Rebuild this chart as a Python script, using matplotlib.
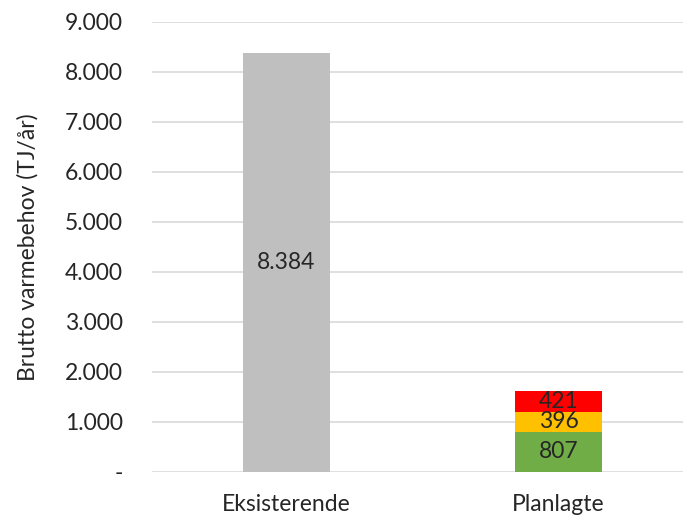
import matplotlib.pyplot as plt
from matplotlib.ticker import FuncFormatter

plt.rcParams['font.family'] = ['Lato', 'DejaVu Sans']

categories = ['Eksisterende', 'Planlagte']
existing = [8384, 0]
planned_green = [0, 807]
planned_yellow = [0, 396]
planned_red = [0, 421]


def thousands(v, pos):
    if v == 0:
        return '-'
    return f'{int(v):,}'.replace(',', '.')


fig = plt.figure(figsize=(6.83, 5.16), dpi=100)
ax = fig.add_axes([152 / 683, 44 / 516, (683 - 152) / 683, (472 - 22) / 516 * 1.0])

fs = 16.5
x = [0, 1]
w = 0.32
ax.bar(x, existing, width=w, color='#BFBFBF', zorder=2)
ax.bar(x, planned_green, width=w, color='#70AD47', zorder=2)
bottom2 = [a for a in planned_green]
ax.bar(x, planned_yellow, width=w, bottom=bottom2, color='#FFC000', zorder=2)
bottom3 = [a + b for a, b in zip(planned_green, planned_yellow)]
ax.bar(x, planned_red, width=w, bottom=bottom3, color='#FF0000', zorder=2)

# value labels in the middle of each segment
ax.text(0, existing[0] / 2, thousands(existing[0], None), ha='center', va='center', fontsize=fs, color='#262626')
ax.text(1, planned_green[1] / 2, str(planned_green[1]), ha='center', va='center', fontsize=fs, color='#262626')
ax.text(1, bottom2[1] + planned_yellow[1] / 2, str(planned_yellow[1]), ha='center', va='center', fontsize=fs, color='#262626')
ax.text(1, bottom3[1] + planned_red[1] / 2, str(planned_red[1]), ha='center', va='center', fontsize=fs, color='#262626')

ax.set_ylim(0, 9000)
ax.set_xlim((152 - 286.5) / 272, (683 - 286.5) / 272)
ax.set_yticks(range(0, 9001, 1000))
ax.yaxis.set_major_formatter(FuncFormatter(thousands))
ax.set_xticks(x)
ax.set_xticklabels(categories)
ax.tick_params(axis='both', length=0, labelsize=fs, colors='#404040', labelcolor='#262626')
ax.tick_params(axis='y', pad=21)
ax.tick_params(axis='x', pad=16)
ax.grid(axis='y', color='#D9D9D9', linewidth=1.2, zorder=0)
for s in ax.spines.values():
    s.set_visible(False)
ax.set_ylabel('Brutto varmebehov (TJ/år)', fontsize=fs, color='#262626', labelpad=19)

fig.savefig('out.png', dpi=100)
